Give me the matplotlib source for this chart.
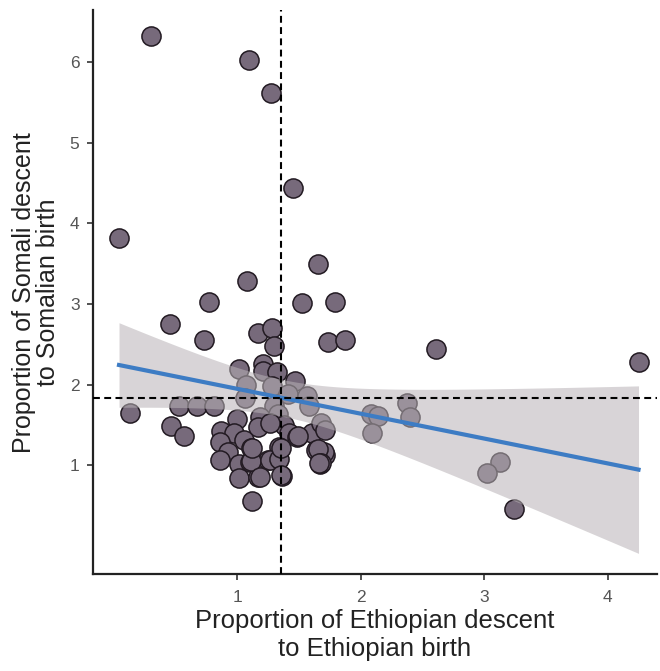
#!/usr/bin/env python3
# -*- coding: utf-8 -*-
"""
plot.py – scatter of Somali vs Ethiopian descent/birth proportions
with an OLS fit (95 % CI band) and two dashed reference lines.
Saves out.png (660x671 px).
"""
import numpy as np
import matplotlib.pyplot as plt
import matplotlib as mpl

# ---------------------------------------------------------------------------
# Data ----------------------------------------------------------------------
# ---------------------------------------------------------------------------

ethiopian_ratio = [
    0.30, 1.09, 1.27, 1.45, 0.04, 1.65, 1.08, 0.77, 1.52, 1.79,
    0.45, 1.17, 1.28, 0.73, 1.30, 1.73, 1.87, 1.21, 1.01, 1.21,
    1.32, 1.47, 1.07, 1.28, 1.06, 1.41, 1.56, 1.58, 0.13, 0.53,
    0.67, 0.81, 1.30, 1.33, 0.46, 0.57, 1.00, 1.18, 1.17, 1.38,
    0.87, 0.97, 1.42, 1.48, 1.60, 1.68, 1.71, 0.86, 1.05, 1.11,
    0.92, 1.34, 1.64, 1.71, 1.67, 0.86, 1.01, 1.10, 1.25, 1.33,
    1.01, 1.17, 1.36, 1.12, 2.61, 4.25, 2.08, 2.14, 2.09, 2.37,
    2.40, 3.13, 3.02, 3.24, 1.26, 1.70,
    # overplotted (hidden) points inside the dense cluster
    1.65, 1.11, 1.26, 1.34, 1.68, 1.18, 1.35, 1.12, 1.35, 1.66, 1.49,
]
somali_ratio = [
    6.32, 6.02, 5.62, 4.44, 3.82, 3.49, 3.28, 3.03, 3.01, 3.02,
    2.75, 2.64, 2.70, 2.55, 2.48, 2.53, 2.55, 2.26, 2.19, 2.17,
    2.16, 2.05, 2.00, 1.98, 1.84, 1.89, 1.86, 1.73, 1.65, 1.73,
    1.73, 1.73, 1.73, 1.64, 1.49, 1.36, 1.58, 1.60, 1.48, 1.50,
    1.43, 1.40, 1.40, 1.35, 1.40, 1.52, 1.44, 1.29, 1.31, 1.21,
    1.17, 1.23, 1.19, 1.13, 1.02, 1.07, 1.02, 1.04, 1.07, 1.07,
    0.84, 0.85, 0.87, 0.56, 2.44, 2.28, 1.64, 1.61, 1.40, 1.77,
    1.60, 1.04, 0.91, 0.46, 1.52, 1.16,
    1.20, 1.05, 1.06, 1.08, 1.03, 0.86, 0.88, 1.22, 1.22, 1.03, 1.36,
]

ref_x = 1.356   # vertical dashed reference
ref_y = 1.83    # horizontal dashed reference

x_ticks = [1, 2, 3, 4]
y_ticks = [1, 2, 3, 4, 5, 6]

T_CRIT = 1.988  # t(0.975, df = n - 2)

# ---------------------------------------------------------------------------
# Style ----------------------------------------------------------------------
# ---------------------------------------------------------------------------

mpl.rcParams.update({
    "font.family": ["Liberation Sans", "DejaVu Sans"],
    "axes.spines.top": False,
    "axes.spines.right": False,
})

POINT_FILL = "#776a7b"
POINT_EDGE = "#221a22"
FIT_BLUE = "#3d7cc4"
BAND_GREY = "#b8b2b6"


def _ols_band(x, y, grid):
    """Linear fit + 95 % confidence band evaluated on grid."""
    x = np.asarray(x)
    y = np.asarray(y)
    slope, intercept = np.polyfit(x, y, 1)
    resid = y - (slope * x + intercept)
    n = len(x)
    s = np.sqrt(np.sum(resid ** 2) / (n - 2))
    sxx = np.sum((x - x.mean()) ** 2)
    fit = slope * grid + intercept
    se = s * np.sqrt(1 / n + (grid - x.mean()) ** 2 / sxx)
    return fit, fit - T_CRIT * se, fit + T_CRIT * se


def main() -> None:
    fig = plt.figure(figsize=(6.6, 6.71), dpi=100)
    ax = fig.add_axes([0.1405, 0.1446, 0.855, 0.84])

    ax.scatter(ethiopian_ratio, somali_ratio, s=190, color=POINT_FILL,
               edgecolors=POINT_EDGE, linewidths=1.1, zorder=2)

    grid = np.linspace(min(ethiopian_ratio), max(ethiopian_ratio), 80)
    fit, lo, hi = _ols_band(ethiopian_ratio, somali_ratio, grid)
    ax.fill_between(grid, lo, hi, color=BAND_GREY, alpha=0.55, linewidth=0, zorder=3)
    ax.plot(grid, fit, color=FIT_BLUE, linewidth=3, zorder=4)

    ax.axvline(ref_x, color="black", linewidth=1.5, dashes=(3.3, 2.1), zorder=5)
    ax.axhline(ref_y, color="black", linewidth=1.5, dashes=(3.3, 2.1), zorder=5)

    ax.set_xlim(-0.173, 4.40)
    ax.set_ylim(-0.347, 6.64)
    ax.set_xticks(x_ticks)
    ax.set_yticks(y_ticks)
    ax.tick_params(colors="#333333", labelcolor="#555555", labelsize=12.5,
                   length=4.5, width=1.2)
    ax.tick_params(axis="x", pad=7)
    ax.tick_params(axis="y", pad=5)
    for side in ("left", "bottom"):
        ax.spines[side].set_linewidth(1.6)
        ax.spines[side].set_color("#222222")

    ax.set_xlabel("Proportion of Ethiopian descent\nto Ethiopian birth",
                  fontsize=18.5, color="#222222", labelpad=3, linespacing=1.2)
    ax.set_ylabel("Proportion of Somali descent\nto Somalian birth",
                  fontsize=18, color="#222222", labelpad=7, linespacing=1.0)

    fig.savefig("out.png", dpi=100)


if __name__ == "__main__":
    main()
